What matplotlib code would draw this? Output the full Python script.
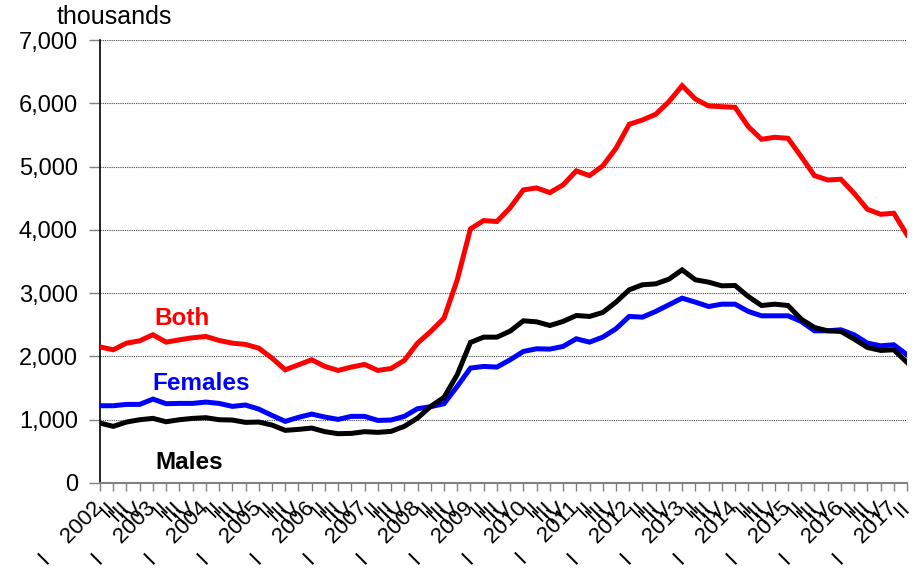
import matplotlib
matplotlib.use("Agg")
import matplotlib.pyplot as plt
from matplotlib.ticker import FuncFormatter

plt.rcParams['font.family'] = ['Liberation Sans', 'DejaVu Sans']

years = list(range(2002, 2018))
quarters = ["I", "II", "III", "IV"]

both = [2150, 2105, 2210, 2247, 2342, 2226, 2263, 2295, 2316, 2253,
        2210, 2190, 2131, 1974, 1789, 1868, 1947, 1842, 1779, 1832,
        1874, 1779, 1810, 1937, 2210, 2395, 2605, 3210, 4016, 4147,
        4132, 4350, 4632, 4663, 4589, 4711, 4932, 4858, 5011, 5289,
        5668, 5737, 5826, 6026, 6279, 6068, 5958, 5947, 5937, 5632,
        5432, 5463, 5447, 5158, 4858, 4789, 4800, 4579, 4326, 4247,
        4263, 3921]

males = [947, 895, 963, 1000, 1021, 968, 1000, 1021, 1032, 1000,
         995, 958, 963, 916, 832, 847, 868, 811, 779, 784,
         811, 800, 816, 895, 1026, 1211, 1353, 1711, 2221, 2305,
         2305, 2400, 2563, 2547, 2489, 2553, 2647, 2632, 2695, 2858,
         3053, 3132, 3147, 3221, 3368, 3211, 3174, 3116, 3121, 2947,
         2805, 2826, 2805, 2589, 2458, 2405, 2395, 2274, 2142, 2095,
         2105, 1905]

females = [1221, 1221, 1242, 1242, 1326, 1253, 1258, 1258, 1279, 1258,
           1211, 1232, 1168, 1068, 974, 1037, 1089, 1042, 1005, 1053,
           1053, 989, 995, 1053, 1174, 1205, 1253, 1526, 1816, 1842,
           1832, 1947, 2079, 2121, 2116, 2158, 2279, 2226, 2305, 2437,
           2632, 2621, 2711, 2816, 2921, 2858, 2789, 2826, 2826, 2711,
           2642, 2642, 2642, 2553, 2405, 2405, 2421, 2342, 2211, 2168,
           2184, 2026]

labels = []
for y in years:
    for q in quarters:
        labels.append(f"I    {y}" if q == "I" else q)
labels = labels[:len(both)]
x = list(range(len(both)))

fig = plt.figure(figsize=(9.19, 5.72), dpi=100)
ax = fig.add_axes([0.1088, 0.1556, 0.9870 - 0.1088, 0.930 - 0.1556])

ax.plot(x, both, color='#FF0000', lw=3.6, solid_joinstyle='miter', zorder=3)
ax.plot(x, females, color='#0000FF', lw=3.6, solid_joinstyle='miter', zorder=3)
ax.plot(x, males, color='#000000', lw=3.6, solid_joinstyle='miter', zorder=4)

ax.set_xlim(0, len(both) - 1)
ax.set_ylim(0, 7000)
ax.set_yticks(range(0, 7001, 1000))
ax.yaxis.set_major_formatter(FuncFormatter(lambda v, p: f"{int(v):,}"))
ax.grid(axis='y', color='#444444', ls=(0, (1, 1)), lw=0.8, zorder=1)
ax.set_axisbelow(True)

ax.set_xticks(x)
ax.set_xticklabels(labels, rotation=45, ha='right', va='center',
                   rotation_mode='anchor', fontsize=16)
ax.tick_params(axis='x', length=6, width=1, color='#808080', direction='out', pad=10)
ax.tick_params(axis='y', length=8, width=1, color='#808080', labelsize=17, pad=8)

for s in ['top', 'right']:
    ax.spines[s].set_visible(False)
ax.spines['left'].set_color('black')
ax.spines['left'].set_linewidth(1.2)
ax.spines['bottom'].set_color('#808080')
ax.spines['bottom'].set_linewidth(1.5)

fig.text(0.062, 0.97, "thousands", fontsize=18, ha='left', va='center')

ax.text(4.1, 2600, "Both", color='#FF0000', fontsize=17.5, fontweight='bold', va='center')
ax.text(3.95, 1580, "Females", color='#0000FF', fontsize=17.5, fontweight='bold', va='center')
ax.text(4.2, 330, "Males", color='#000000', fontsize=17.5, fontweight='bold', va='center')

fig.savefig("out.png", dpi=100)
